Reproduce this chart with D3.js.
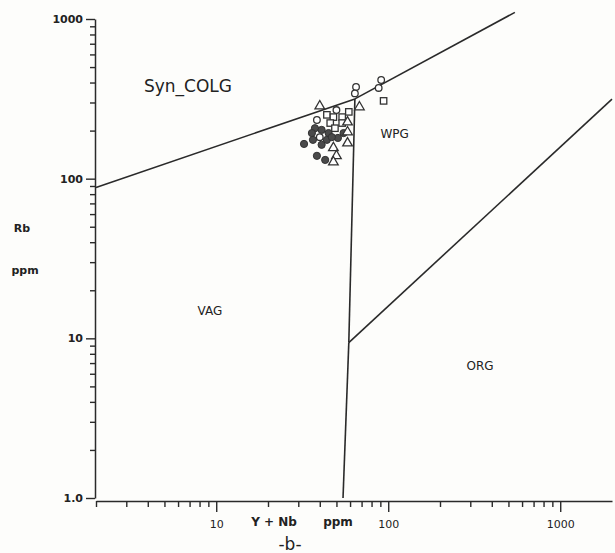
<!DOCTYPE html>
<html>
<head>
<meta charset="utf-8">
<script src="https://cdn.jsdelivr.net/npm/d3@7"></script>
<style>
  html, body { margin: 0; padding: 0; background: #fdfdfb; }
  svg { display: block; }
  text { font-family: "DejaVu Sans", sans-serif; fill: #222; }
</style>
</head>
<body>
<svg id="chart" width="615" height="553"></svg>
<script>
// ---- Data ----
const xMajorTicks = [10, 100, 1000];
const xMajorLabels = ["10", "100", "1000"];
const yMajorTicks = [1, 10, 100, 1000];
const yMajorLabels = ["1.0", "10", "100", "1000"];

// Boundary lines [Y+Nb, Rb]
const lineVAGsynCOLG = [[2, 88], [64, 316]];
const lineWPGsynCOLG = [[64, 316], [545, 1100]];
const lineVAGWPG = [[64, 316], [59, 9.4]];
const lineVAGORG = [[59, 9.4], [54.6, 1]];
const lineORGWPG = [[59, 9.4], [2000, 315]];

// Samples [Y+Nb, Rb]
const openCircles = [[65, 375], [64, 342], [91, 415], [88, 370], [50, 269], [38.5, 233], [40, 182]];
const openSquares = [[94, 307], [59, 262], [44, 251], [48, 243], [54, 243], [46, 223], [54, 223], [49, 207]];
const openTriangles = [[68, 281], [40, 285], [58, 226], [58, 167], [48, 156], [50, 139], [48, 127], [58, 196]];
const filledCircles = [[37.5, 207], [41, 202], [45, 193], [36, 193], [55, 193], [44, 175], [51, 180],
                       [32.4, 165], [41, 163], [38.5, 139], [43, 131], [36.5, 175], [47, 182]];

// Region labels [Y+Nb, Rb, text]
const regionLabels = [
  { x: 6.85, y: 349, t: "Syn_COLG", size: 17 },
  { x: 109, y: 180, t: "WPG", size: 12 },
  { x: 9.2, y: 14, t: "VAG", size: 12 },
  { x: 342, y: 6.3, t: "ORG", size: 12 }
];

// ---- Drawing ----
const svg = d3.select("#chart");
const x = d3.scaleLog().domain([2, 2000]).range([96, 612]);
const y = d3.scaleLog().domain([1, 1000]).range([498, 19]);
const ink = "#2a2a2a";

function minorTicks(lo, hi) {
  const out = [];
  for (let d = lo; d < hi; d *= 10) for (let k = 2; k <= 9; k++) out.push(d * k);
  return out;
}

// X axis
const xMinor = minorTicks(1, 1000).filter(v => v >= 2 && v < 2000);
const gx = svg.append("g").attr("transform", `translate(0,${y(1) + 3})`);
gx.call(d3.axisBottom(x).tickValues(xMinor).tickSize(6).tickSizeOuter(0).tickFormat(""));
const gxMaj = gx.append("g").call(d3.axisBottom(x).tickValues(xMajorTicks).tickSize(11).tickSizeOuter(0)
  .tickFormat((d, i) => xMajorLabels[i]).tickPadding(6));
gxMaj.select("path.domain").remove();
gx.selectAll("path.domain").attr("stroke", ink).attr("stroke-width", 1.5);
gx.selectAll(".tick line").attr("stroke", ink).attr("stroke-width", 1.4);
gx.selectAll(".tick text").attr("font-size", 11).attr("fill", "#222").attr("dy", "0.9em");

// Y axis
const yMinor = minorTicks(1, 1000);
const gy = svg.append("g").attr("transform", `translate(${x(2) - 1},0)`);
gy.call(d3.axisLeft(y).tickValues(yMinor).tickSize(5).tickSizeOuter(0).tickFormat(""));
const gyMaj = gy.append("g").call(d3.axisLeft(y).tickValues(yMajorTicks).tickSize(9).tickSizeOuter(0)
  .tickFormat((d, i) => yMajorLabels[i]).tickPadding(3));
gyMaj.select("path.domain").remove();
gy.selectAll("path.domain").attr("stroke", ink).attr("stroke-width", 1.5);
gy.selectAll(".tick line").attr("stroke", ink).attr("stroke-width", 1.4);
gy.selectAll(".tick text").attr("font-size", 11).attr("fill", "#222").attr("font-weight", "bold");

// Boundary lines
const line = d3.line().x(d => x(d[0])).y(d => y(d[1]));
[lineVAGsynCOLG, lineWPGsynCOLG, lineVAGWPG, lineVAGORG, lineORGWPG].forEach(l => {
  svg.append("path").datum(l).attr("d", line)
    .attr("fill", "none").attr("stroke", ink).attr("stroke-width", 1.6);
});

// Region labels
regionLabels.forEach(r => {
  svg.append("text").attr("x", x(r.x)).attr("y", y(r.y))
    .attr("text-anchor", "middle").attr("font-size", r.size).text(r.t);
});

// Axis titles
svg.append("text").attr("x", 22).attr("y", 232).attr("font-size", 11).attr("font-weight", "bold")
  .attr("text-anchor", "middle").text("Rb");
svg.append("text").attr("x", 25).attr("y", 274).attr("font-size", 11).attr("font-weight", "bold")
  .attr("text-anchor", "middle").text("ppm");
svg.append("text").attr("x", 274).attr("y", 526).attr("font-size", 12).attr("font-weight", "bold")
  .attr("text-anchor", "middle").text("Y + Nb");
svg.append("text").attr("x", 338).attr("y", 526).attr("font-size", 12).attr("font-weight", "bold")
  .attr("text-anchor", "middle").text("ppm");
svg.append("text").attr("x", 290).attr("y", 550).attr("font-size", 17)
  .attr("text-anchor", "middle").text("-b-");

// Symbols
const g = svg.append("g");
g.selectAll("circle.fc").data(filledCircles).join("circle").attr("class", "fc")
  .attr("cx", d => x(d[0])).attr("cy", d => y(d[1])).attr("r", 3.6)
  .attr("fill", "#4a4a4a").attr("stroke", "#333").attr("stroke-width", 1);
g.selectAll("circle.oc").data(openCircles).join("circle").attr("class", "oc")
  .attr("cx", d => x(d[0])).attr("cy", d => y(d[1])).attr("r", 3.3)
  .attr("fill", "#fff").attr("stroke", "#333").attr("stroke-width", 1.3);
g.selectAll("rect.os").data(openSquares).join("rect").attr("class", "os")
  .attr("x", d => x(d[0]) - 3.2).attr("y", d => y(d[1]) - 3.2).attr("width", 6.4).attr("height", 6.4)
  .attr("fill", "#fff").attr("stroke", "#333").attr("stroke-width", 1.3);
const tri = d3.symbol().type(d3.symbolTriangle).size(40);
g.selectAll("path.ot").data(openTriangles).join("path").attr("class", "ot")
  .attr("transform", d => `translate(${x(d[0])},${y(d[1])})`).attr("d", tri)
  .attr("fill", "#fff").attr("stroke", "#333").attr("stroke-width", 1.3);
</script>
</body>
</html>
